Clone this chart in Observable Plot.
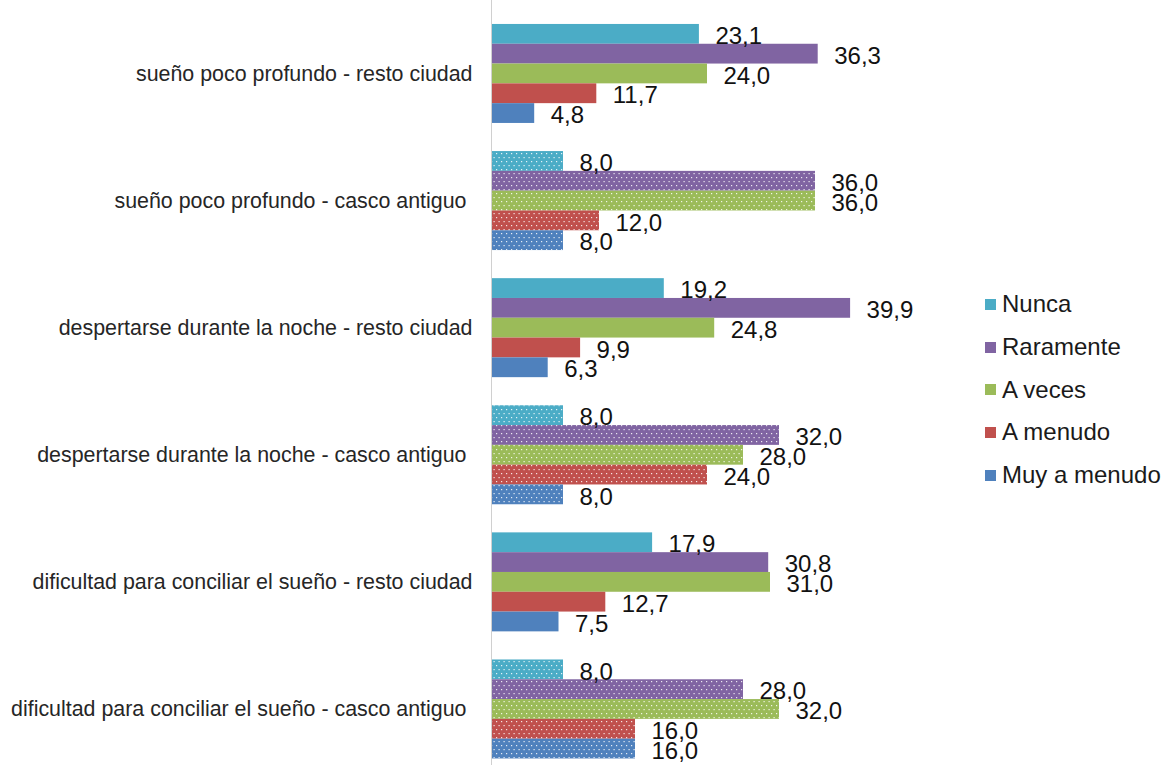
<!DOCTYPE html>
<html>
<head>
<meta charset="utf-8">
<script src="https://cdn.jsdelivr.net/npm/d3@7"></script>
<script src="https://cdn.jsdelivr.net/npm/@observablehq/plot@0.6"></script>
<style>
  html, body { margin: 0; padding: 0; background: #fff; }
  #wrap { position: relative; width: 1170px; height: 765px; font-family: "Liberation Sans", Arial, sans-serif; }
  #legend { position: absolute; left: 985px; top: 283px; }
  .item { height: 42.7px; display: flex; align-items: center; font-size: 24px; color: #1a1a1a; white-space: nowrap; }
  .sw { width: 11px; height: 11px; margin-right: 6px; }
</style>
</head>
<body>
<div id="wrap"></div>
<script>
const groups = [
  "sueño poco profundo - resto ciudad",
  "sueño poco profundo - casco antiguo",
  "despertarse durante la noche - resto ciudad",
  "despertarse durante la noche - casco antiguo",
  "dificultad para conciliar el sueño - resto ciudad",
  "dificultad para conciliar el sueño - casco antiguo"
];
const series = ["Nunca", "Raramente", "A veces", "A menudo", "Muy a menudo"];
const colors = ["#4BACC6", "#8064A2", "#9BBB59", "#C0504D", "#4F81BD"];
const nunca       = [23.1,  8.0, 19.2,  8.0, 17.9,  8.0];
const raramente   = [36.3, 36.0, 39.9, 32.0, 30.8, 28.0];
const aVeces      = [24.0, 36.0, 24.8, 28.0, 31.0, 32.0];
const aMenudo     = [11.7, 12.0,  9.9, 24.0, 12.7, 16.0];
const muyAMenudo  = [ 4.8,  8.0,  6.3,  8.0,  7.5, 16.0];
const values = [nunca, raramente, aVeces, aMenudo, muyAMenudo];

// layout in "bar slot" units along y
const PITCH = 6.42, OFFSET = 1.21, TOTAL = 38.64;
const rows = [];
groups.forEach((g, gi) => {
  series.forEach((s, si) => {
    const y1 = OFFSET + gi * PITCH + si;
    rows.push({group: g, series: s, value: values[si][gi], y1, y2: y1 + 1, casco: g.includes("casco")});
  });
});
const groupRows = groups.map((g, gi) => ({group: g, yc: OFFSET + gi * PITCH + 2.5, casco: g.includes("casco")}));
const fmt = d => d.toFixed(1).replace(".", ",");

const plot = Plot.plot({
  width: 1170,
  height: 765,
  marginLeft: 491,
  marginRight: 274,
  marginTop: 0,
  marginBottom: 0,
  style: {fontFamily: "Liberation Sans, Arial, sans-serif", background: "#fff"},
  x: {domain: [0, 45], axis: null},
  y: {domain: [0, TOTAL], reverse: true, axis: null},
  color: {domain: series, range: colors},
  marks: [
    Plot.rectX(rows, {x1: 0, x2: "value", y1: "y1", y2: "y2", fill: "series"}),
    Plot.rectX(rows.filter(d => d.casco), {x1: 0, x2: "value", y1: "y1", y2: "y2", fill: "url(#dots)"}),
    Plot.ruleX([0], {stroke: "#d0d0d0", strokeWidth: 1}),
    Plot.text(rows, {x: "value", y: d => (d.y1 + d.y2) / 2, text: d => fmt(d.value), textAnchor: "start", dx: 16, dy: 2, fontSize: 24, fill: "#111"}),
    Plot.text(groupRows.filter(d => !d.casco), {x: 0, y: "yc", text: "group", textAnchor: "end", dx: -19, fontSize: 21.4, fill: "#262626"}),
    Plot.text(groupRows.filter(d => d.casco), {x: 0, y: "yc", text: "group", textAnchor: "end", dx: -25, fontSize: 21.4, fill: "#262626"})
  ]
});

// dotted pattern for "casco antiguo" bars
const ns = "http://www.w3.org/2000/svg";
const defs = document.createElementNS(ns, "defs");
const pat = document.createElementNS(ns, "pattern");
pat.setAttribute("id", "dots");
pat.setAttribute("patternUnits", "userSpaceOnUse");
pat.setAttribute("width", "5");
pat.setAttribute("height", "8");
[[1, 1], [3.5, 5]].forEach(([x, y]) => {
  const r = document.createElementNS(ns, "rect");
  r.setAttribute("x", x); r.setAttribute("y", y);
  r.setAttribute("width", "1.2"); r.setAttribute("height", "1.2");
  r.setAttribute("fill", "#ffffff"); r.setAttribute("fill-opacity", "0.85");
  pat.appendChild(r);
});
defs.appendChild(pat);
plot.insertBefore(defs, plot.firstChild);

const wrap = document.getElementById("wrap");
wrap.appendChild(plot);

const legend = document.createElement("div");
legend.id = "legend";
series.forEach((s, i) => {
  const it = document.createElement("div");
  it.className = "item";
  const sw = document.createElement("span");
  sw.className = "sw";
  sw.style.background = colors[i];
  it.appendChild(sw);
  it.appendChild(document.createTextNode(s));
  legend.appendChild(it);
});
wrap.appendChild(legend);
</script>
</body>
</html>
